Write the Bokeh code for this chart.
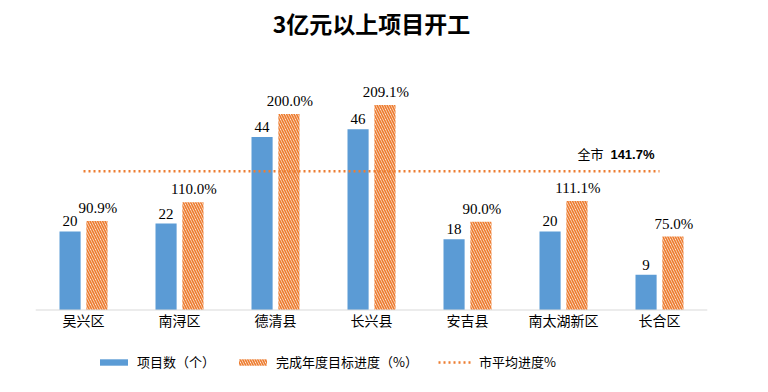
from bokeh.plotting import figure
from bokeh.models import Range1d, Legend, LegendItem, ColumnDataSource, Span
from bokeh.transform import dodge
from bokeh.core.properties import value
from bokeh.embed import file_html
from bokeh.resources import INLINE

title_text = "3亿元以上项目开工"
categories = ["吴兴区", "南浔区", "德清县", "长兴县", "安吉县", "南太湖新区", "长合区"]
project_counts = [20, 22, 44, 46, 18, 20, 9]
progress_pct = [90.9, 110.0, 200.0, 209.1, 90.0, 111.1, 75.0]
city_avg_pct = [141.7] * 7
city_avg_value = 141.7
series_names = ["项目数（个）", "完成年度目标进度（%）", "市平均进度%"]

BLUE = "#5b9bd5"
ORANGE = "#ed7d31"

# layout constants (pixels)
FIG_W, FIG_H = 752, 376
BASE_PX = 309.5      # screen y of the zero line
PX_CNT = 3.93        # pixels per project
PX_PCT = 0.98        # pixels per percent


def cnt_at(screen_y):
    return (BASE_PX - screen_y) / PX_CNT


src = ColumnDataSource(dict(
    cat=categories,
    cnt=project_counts,
    pct=progress_pct,
    avg=city_avg_pct,
    cnt_lbl=[str(v) for v in project_counts],
    pct_lbl=["%.1f%%" % v for v in progress_pct],
))

p = figure(x_range=categories, width=FIG_W, height=FIG_H,
           y_range=Range1d(-(FIG_H - BASE_PX) / PX_CNT, BASE_PX / PX_CNT),
           output_backend="svg", toolbar_location=None, title=None,
           min_border_left=35, min_border_right=45, min_border_top=0,
           min_border_bottom=0)
p.extra_y_ranges = {"pct": Range1d(-(FIG_H - BASE_PX) / PX_PCT, BASE_PX / PX_PCT)}

p.outline_line_color = None
p.grid.visible = False
p.axis.visible = False
p.background_fill_color = "white"
p.border_fill_color = "white"

p.add_layout(Span(location=0, dimension="width", line_color="#d9d9d9", line_width=1))

# title
p.text(x=[categories[3]], y=[cnt_at(22)], text=[title_text],
       text_align="center", text_baseline="middle",
       text_font=value("Noto Sans CJK SC"), text_font_style="bold",
       text_font_size="23px", text_color="#000000")

# category labels
p.text(x="cat", y=0, text="cat", source=src, text_align="center",
       text_baseline="middle", y_offset=10,
       text_font=value("Noto Sans CJK SC"), text_font_size="14px",
       text_color="#000000")

b1 = p.vbar(x=dodge("cat", -0.14, range=p.x_range), top="cnt", width=0.22,
            source=src, fill_color=BLUE, line_color=None)
b2 = p.vbar(x=dodge("cat", 0.14, range=p.x_range), top="pct", width=0.22,
            source=src, y_range_name="pct", fill_color="white", line_color=None,
            hatch_pattern="left_diagonal_line", hatch_color=ORANGE,
            hatch_scale=5, hatch_weight=1.7)
ln = p.line(x="cat", y="avg", source=src, y_range_name="pct",
            line_color=ORANGE, line_width=2.5, line_dash="2 3")

p.text(x=dodge("cat", -0.14, range=p.x_range), y="cnt", text="cnt_lbl", source=src,
       text_align="center", text_baseline="bottom", y_offset=-5,
       text_font=value("Liberation Serif"), text_font_size="15px", text_color="#000000")
p.text(x=dodge("cat", 0.15, range=p.x_range), y="pct", text="pct_lbl", source=src,
       y_range_name="pct",
       text_align="center", text_baseline="bottom", y_offset=-5,
       text_font=value("Liberation Serif"), text_font_size="15px", text_color="#000000")

p.text(x=[categories[-1]], y=[city_avg_value], text=["%.1f%%" % city_avg_value],
       y_range_name="pct", text_align="right", text_baseline="bottom",
       x_offset=-5, y_offset=-9,
       text_font=value("Liberation Sans"), text_font_style="bold",
       text_font_size="13px", text_color="#000000")
p.text(x=[categories[-1]], y=[city_avg_value], text=["全市"],
       y_range_name="pct", text_align="right", text_baseline="bottom",
       x_offset=-56, y_offset=-8,
       text_font=value("Noto Sans CJK SC"),
       text_font_size="13px", text_color="#000000")

legend = Legend(items=[
    LegendItem(label=series_names[0], renderers=[b1]),
    LegendItem(label=series_names[1], renderers=[b2]),
    LegendItem(label=series_names[2], renderers=[ln]),
], orientation="horizontal", location=(61, 5),
    label_text_font="Noto Sans CJK SC", label_text_font_size="13px",
    label_text_color="#000000", glyph_width=35, glyph_height=8,
    spacing=20, label_standoff=6, border_line_color=None,
    background_fill_alpha=0, margin=0, padding=4)
p.add_layout(legend, "center")

open("out.html", "w").write(file_html(p, INLINE))
